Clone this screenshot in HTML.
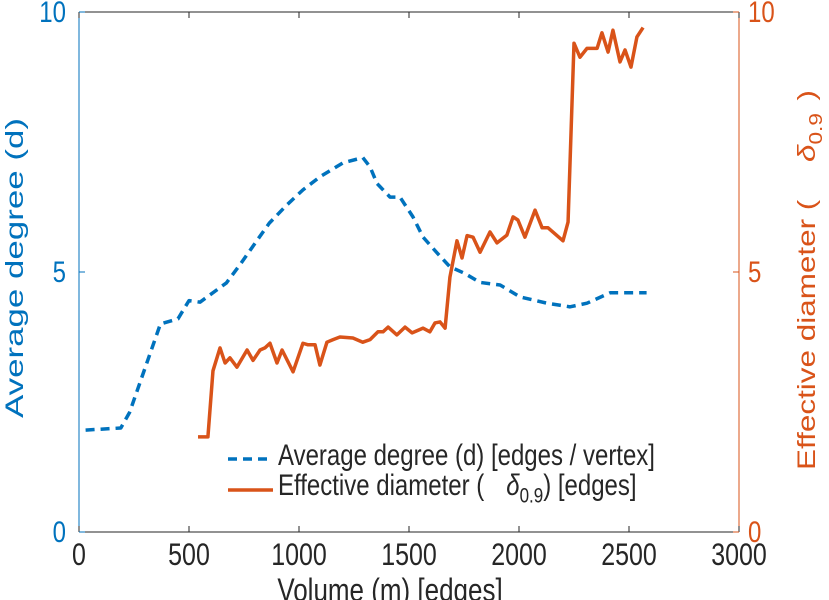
<!DOCTYPE html>
<html><head><meta charset="utf-8"><style>
body{margin:0;background:#fff}
svg{display:block;font-family:"Liberation Sans",sans-serif}
</style></head><body>
<svg id="chart" width="829" height="600">
<g id="axes"></g>
<g id="plot"></g>
<g id="legend">
  <line x1="228" y1="459" x2="273" y2="459" stroke="#0072BD" stroke-width="3.5" stroke-dasharray="9,6"/>
  <text transform="translate(278,465) scale(1,1.25)" font-size="24" fill="#262626">Average degree (d) [edges / vertex]</text>
  <line x1="228" y1="490" x2="273" y2="490" stroke="#D95319" stroke-width="3.5"/>
  <text transform="translate(278,495) scale(1,1.25)" font-size="24" fill="#262626">Effective diameter (<tspan dx="22" font-style="italic">δ</tspan><tspan font-size="17" dy="6">0.9</tspan><tspan dy="-6">) [edges]</tspan></text>
</g>
<text x="0" y="0" font-size="25" fill="#0072BD" text-anchor="middle" textLength="300" lengthAdjust="spacingAndGlyphs" transform="translate(23,268) rotate(-90)">Average degree (d)</text>
<text x="0" y="0" font-size="25" fill="#D95319" text-anchor="middle" textLength="380" lengthAdjust="spacingAndGlyphs" transform="translate(815,280) rotate(-90)">Effective diameter (<tspan dx="30" font-style="italic">δ</tspan><tspan font-size="18" dy="7">0.9</tspan><tspan dy="-7" dx="10">)</tspan></text>
<text transform="translate(390,601) scale(1,1.25)" font-size="26" fill="#262626" text-anchor="middle">Volume (m) [edges]</text>
</svg>
<script>
const xTicks=[0,500,1000,1500,2000,2500,3000];
const yTicks=[0,5,10];
const degM=[30,190,230,370,450,500,550,670,730,808,865,945,1018,1095,1200,1290,1323,1355,1414,1459,1518,1564,1627,1686,1750,1823,1914,2005,2127,2232,2309,2414,2580];
const degV=[1.96,2.0,2.3,4.0,4.1,4.45,4.42,4.79,5.13,5.6,5.94,6.29,6.58,6.83,7.1,7.2,7.02,6.7,6.44,6.44,6.06,5.67,5.37,5.1,4.98,4.8,4.75,4.52,4.4,4.33,4.4,4.6,4.6];
const diaM=[541,586,609,641,664,686,718,764,791,823,845,868,900,923,973,1018,1041,1073,1095,1127,1155,1186,1245,1290,1323,1359,1382,1405,1445,1482,1514,1564,1595,1618,1641,1664,1686,1718,1741,1764,1791,1823,1868,1900,1945,1973,1995,2027,2073,2105,2132,2200,2223,2250,2277,2309,2355,2377,2405,2427,2459,2482,2509,2536,2564];
const diaV=[1.83,1.83,3.1,3.54,3.25,3.35,3.17,3.5,3.3,3.5,3.54,3.63,3.25,3.5,3.08,3.63,3.6,3.6,3.21,3.65,3.7,3.75,3.73,3.65,3.7,3.85,3.85,3.94,3.79,3.94,3.83,3.92,3.85,4.02,4.04,3.92,4.9,5.6,5.27,5.7,5.67,5.38,5.77,5.56,5.71,6.06,6.0,5.67,6.19,5.85,5.85,5.6,5.96,9.4,9.13,9.3,9.3,9.6,9.23,9.65,9.04,9.27,8.94,9.52,9.7];
const X0=79,X1=739,Y0=532,Y1=12;
const sx=v=>X0+(v-0)/3000*(X1-X0);
const sy=v=>Y0-(v/10)*(Y0-Y1);
const NS="http://www.w3.org/2000/svg";
function mk(t,a,p){const e=document.createElementNS(NS,t);for(const k in a)e.setAttribute(k,a[k]);p.appendChild(e);return e;}
const axes=document.getElementById('axes'),plot=document.getElementById('plot');
let e;
e=mk('line',{x1:X0,y1:Y0,x2:X1,y2:Y0,stroke:'#262626','stroke-width':1},axes);


e=mk('line',{x1:X0,y1:Y1,x2:X1,y2:Y1,stroke:'#262626','stroke-width':1},axes);


e=mk('line',{x1:X0,y1:Y0,x2:X0,y2:Y1,stroke:'#0072BD','stroke-width':1},axes);


e=mk('line',{x1:X1,y1:Y0,x2:X1,y2:Y1,stroke:'#D95319','stroke-width':1},axes);


xTicks.forEach(t=>{
 const x=sx(t);
 e=mk('line',{x1:x,y1:Y0,x2:x,y2:Y0-6,stroke:'#262626'},axes);
 
 
 e=mk('line',{x1:x,y1:Y1,x2:x,y2:Y1+6,stroke:'#262626'},axes);
 
 
 e=mk('text',{transform:'translate('+x+','+(Y0+33)+') scale(1,1.25)','font-size':25,fill:'#262626','text-anchor':'middle'},axes);
 e.textContent=t;
 
 
});
yTicks.forEach(t=>{
 const y=sy(t);
 e=mk('line',{x1:X0,y1:y,x2:X0+6,y2:y,stroke:'#0072BD'},axes);
 
 
 e=mk('text',{transform:'translate('+(X0-13)+','+(y+10)+') scale(1,1.25)','font-size':24,fill:'#0072BD','text-anchor':'end'},axes);
 e.textContent=t;
 
 
 e=mk('line',{x1:X1,y1:y,x2:X1-6,y2:y,stroke:'#D95319'},axes);
 
 
 e=mk('text',{transform:'translate('+(X1+9)+','+(y+10)+') scale(1,1.25)','font-size':24,fill:'#D95319','text-anchor':'start'},axes);
 e.textContent=t;
 
 
});
e=mk('polyline',{points:degM.map((m,i)=>sx(m)+','+sy(degV[i])).join(' '),fill:'none',stroke:'#0072BD','stroke-width':3.5,'stroke-dasharray':'9,6','stroke-linejoin':'round'},plot);


e=mk('polyline',{points:diaM.map((m,i)=>sx(m)+','+sy(diaV[i])).join(' '),fill:'none',stroke:'#D95319','stroke-width':3.5,'stroke-linejoin':'round'},plot);


</script>
</body></html>
